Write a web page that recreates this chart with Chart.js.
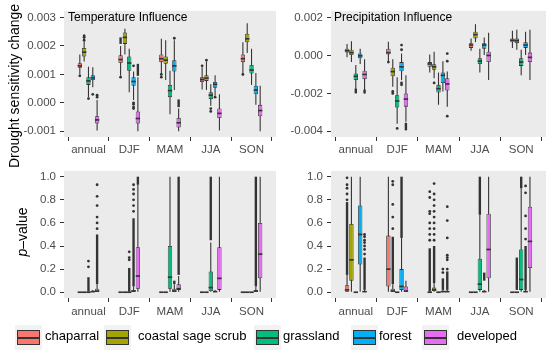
<!DOCTYPE html>
<html><head><meta charset="utf-8">
<script src="https://cdn.jsdelivr.net/npm/chart.js@4.4.1/dist/chart.umd.min.js"></script>
<style>
html,body{margin:0;padding:0;background:#fff;}
#wrap{position:relative;width:550px;height:352px;overflow:hidden;font-family:"Liberation Sans",Arial,sans-serif;}
canvas{position:absolute;}
.ax{position:absolute;white-space:nowrap;font-size:14px;line-height:16px;transform:translate(-50%,-50%) rotate(-90deg);}
.ptitle{position:absolute;white-space:nowrap;font-size:12px;line-height:14px;color:#000;}
.kbg{position:absolute;width:27px;height:25px;background:#F2F2F2;top:325px;}
.kbox{position:absolute;left:2px;top:5px;width:21px;height:13px;border:1px solid #333;}
.kmed{position:absolute;left:0;top:6px;width:21px;height:1.5px;background:#333;}
.lt{position:absolute;top:328px;font-size:13px;line-height:16px;color:#000;white-space:nowrap;}
</style></head><body><div id="wrap">
<canvas id="c1" width="280" height="160" style="left:0;top:0;width:280px;height:160px"></canvas>
<canvas id="c2" width="280" height="160" style="left:270px;top:0;width:280px;height:160px"></canvas>
<canvas id="c3" width="280" height="160" style="left:0;top:160px;width:280px;height:160px"></canvas>
<canvas id="c4" width="280" height="160" style="left:270px;top:160px;width:280px;height:160px"></canvas>
<div class="ax" style="left:14px;top:86px;">Drought sensitivity change</div>
<div class="ax" style="left:22px;top:232px;"><i>p</i>&#8211;value</div>
<div class="ptitle" style="left:68px;top:10px;">Temperature Influence</div>
<div class="ptitle" style="left:334px;top:10px;">Precipitation Influence</div>
<div id="legend"></div>
</div>
<script>
// ---------------- DATA ----------------
const CATS = ['annual', 'DJF', 'MAM', 'JJA', 'SON'];
const GROUPS = ['chaparral', 'coastal sage scrub', 'grassland', 'forest', 'developed'];
const COLORS = ['#F8766D', '#A3A500', '#00BF7D', '#00B0F6', '#E76BF3'];

// Temperature influence (rows = groups, cols = categories)
const tempQ1 = [
  [0.00123, 0.00140, 0.00143, 0.00073, 0.00143],
  [0.00163, 0.00207, 0.00137, 0.00077, 0.00213],
  [0.00063, 0.00113, 0.00020, 0.00013, 0.00103],
  [0.00080, 0.00060, 0.00110, 0.00053, 0.00030],
  [-0.00073, -0.00073, -0.00087, -0.00053, -0.00047]];
const tempMed = [
  [0.00130, 0.00152, 0.00155, 0.00082, 0.00155],
  [0.00178, 0.00230, 0.00150, 0.00087, 0.00225],
  [0.00077, 0.00140, 0.00043, 0.00027, 0.00115],
  [0.00088, 0.00075, 0.00130, 0.00065, 0.00045],
  [-0.00060, -0.00055, -0.00070, -0.00037, -0.00027]];
const tempQ3 = [
  [0.00139, 0.00167, 0.00170, 0.00090, 0.00170],
  [0.00193, 0.00247, 0.00163, 0.00097, 0.00243],
  [0.00090, 0.00163, 0.00063, 0.00037, 0.00133],
  [0.00097, 0.00090, 0.00150, 0.00073, 0.00060],
  [-0.00047, -0.00030, -0.00053, -0.00020, -0.00007]];
const tempLo = [
  [0.00100, 0.00095, 0.00097, 0.00047, 0.00097],
  [0.00145, 0.00170, 0.00080, 0.00045, 0.00175],
  [0.00020, 0.00037, -0.00040, -0.00010, 0.00063],
  [0.00055, 0.00010, 0.00045, 0.00025, -0.00007],
  [-0.00097, -0.00100, -0.00100, -0.00097, -0.00100]];
const tempHi = [
  [0.00170, 0.00200, 0.00225, 0.00125, 0.00213],
  [0.00240, 0.00260, 0.00220, 0.00145, 0.00280],
  [0.00127, 0.00190, 0.00113, 0.00065, 0.00190],
  [0.00125, 0.00110, 0.00220, 0.00097, 0.00105],
  [0.00010, 0.00090, -0.00020, 0.00030, 0.00060]];
const tempBands = [
  [null, [0.00207, 0.00230], null, null, null],
  [null, null, null, null, null],
  [null, null, null, null, null],
  [null, null, null, null, null],
  [null, [0.00095, 0.00137], [-0.00015, 0.00012], null, null]];
const tempOut = [
  [[0.00095], [0.00090], [0.00090, 0.00100], [0.00130], [0.00100]],
  [[0.00220, 0.00230, 0.00235], [], [], [0.00150], []],
  [[0.00015], [], [], [-0.00020, -0.00030], []],
  [[0.00030], [0.00000, -0.00005, -0.00015, -0.00020, 0.00130], [0.00227], [0.00020], []],
  [[0.00020, 0.00027], [], [], [], []]];
const tempTicks = [-0.001, 0.000, 0.001, 0.002, 0.003];

// Precipitation influence
const precQ1 = [
  [0.00015, 0.00005, -0.00060, 0.00040, 0.00070],
  [0.00000, -0.00110, -0.00075, 0.00090, 0.00065],
  [-0.00130, -0.00275, -0.00195, -0.00045, -0.00055],
  [-0.00015, -0.00083, -0.00145, 0.00035, 0.00040],
  [-0.00125, -0.00270, -0.00185, -0.00035, -0.00035]];
const precMed = [
  [0.00025, 0.00015, -0.00045, 0.00055, 0.00080],
  [0.00015, -0.00085, -0.00060, 0.00110, 0.00078],
  [-0.00110, -0.00240, -0.00175, -0.00030, -0.00035],
  [-0.00002, -0.00060, -0.00105, 0.00055, 0.00055],
  [-0.00100, -0.00230, -0.00150, 0.00000, -0.00010]];
const precQ3 = [
  [0.00035, 0.00035, -0.00035, 0.00065, 0.00090],
  [0.00030, -0.00065, -0.00047, 0.00125, 0.00090],
  [-0.00095, -0.00210, -0.00155, -0.00015, -0.00015],
  [0.00010, -0.00035, -0.00090, 0.00065, 0.00070],
  [-0.00080, -0.00200, -0.00120, 0.00020, 0.00015]];
const precLo = [
  [-0.00010, -0.00030, -0.00090, 0.00025, 0.00040],
  [-0.00035, -0.00165, -0.00120, 0.00070, 0.00030],
  [-0.00185, -0.00360, -0.00260, -0.00090, -0.00105],
  [-0.00045, -0.00130, -0.00190, 0.00000, 0.00000],
  [-0.00200, -0.00350, -0.00270, -0.00130, -0.00130]];
const precHi = [
  [0.00060, 0.00072, 0.00005, 0.00090, 0.00130],
  [0.00075, -0.00020, 0.00020, 0.00165, 0.00135],
  [-0.00050, -0.00115, -0.00090, 0.00035, 0.00030],
  [0.00035, 0.00010, -0.00030, 0.00095, 0.00125],
  [-0.00020, -0.00105, -0.00085, 0.00120, 0.00135]];
const precBands = [
  [null, null, null, null, null],
  [null, null, null, null, null],
  [[-0.00200, -0.00175], null, null, null, null],
  [null, null, null, null, null],
  [[-0.00200, -0.00180], [-0.00395, -0.00355], null, null, null]];
const precOut = [
  [[], [-0.00035], [], [], []],
  [[], [-0.00190, -0.00200], [-0.00145], [], []],
  [[], [-0.00385], [], [], []],
  [[], [0.00030, 0.00055, -0.00145, -0.00155], [], [], []],
  [[], [], [-0.00030, 0.00010, -0.00320], [], []]];
const precTicks = [-0.004, -0.002, 0.000, 0.002];

// p-values, temperature
const pTQ1 = [
  [0, 0, 0, 0, 0],
  [0, 0, 0, 0, 0],
  [0, 0, 0.03, 0.01, 0],
  [0, 0, 0, 0, 0],
  [0.00, 0.03, 0.02, 0.02, 0.12]];
const pTMed = [
  [0, 0, 0, 0, 0],
  [0, 0, 0, 0, 0],
  [0, 0, 0.13, 0.04, 0],
  [0.005, 0.01, 0.01, 0.005, 0.01],
  [0.01, 0.14, 0.03, 0.12, 0.33]];
const pTQ3 = [
  [0, 0, 0, 0, 0],
  [0, 0, 0, 0, 0],
  [0, 0, 0.40, 0.18, 0],
  [0.01, 0.02, 0.03, 0.01, 0.02],
  [0.03, 0.39, 0.07, 0.39, 0.60]];
const pTLo = [
  [0, 0, 0, 0, 0], [0, 0, 0, 0, 0], [0, 0, 0, 0, 0], [0, 0, 0, 0, 0], [0, 0, 0, 0, 0]];
const pTHi = [
  [0, 0, 0, 0, 0],
  [0, 0, 0, 0, 0],
  [0, 0, 1.0, 0.43, 0],
  [0.02, 0.05, 0.07, 0.02, 0.05],
  [0.07, 0.93, 0.14, 1.0, 1.0]];
const pTBands = [
  [null, null, null, null, null],
  [null, null, null, null, null],
  [[0.005, 0.13], [0.005, 0.21], null, [0.45, 1.0], null],
  [null, [0.05, 0.64], [0.07, 0.10], null, [0.05, 1.0]],
  [[0.07, 0.50], [0.93, 1.0], [0.15, 1.0], null, null]];
const pTOut = [
  [[], [], [], [], []],
  [[], [], [], [], []],
  [[0.22, 0.27], [0.28, 0.30, 0.35], [], [], []],
  [[], [0.70, 0.75, 0.80, 0.85, 0.89, 0.93], [], [], []],
  [[0.55, 0.60, 0.65, 0.75, 0.83, 0.93], [], [], [], []]];

// p-values, precipitation
const pPQ1 = [
  [0, 0.05, 0, 0, 0],
  [0.10, 0, 0.01, 0, 0],
  [0, 0, 0, 0.02, 0.02],
  [0.24, 0.02, 0, 0, 0],
  [0, 0, 0, 0.12, 0.21]];
const pPMed = [
  [0.02, 0.20, 0, 0, 0],
  [0.28, 0.01, 0.02, 0, 0],
  [0, 0, 0, 0.07, 0.11],
  [0.50, 0.05, 0.005, 0.005, 0.005],
  [0.005, 0.01, 0.005, 0.37, 0.44]];
const pPQ3 = [
  [0.06, 0.49, 0, 0, 0],
  [0.59, 0.03, 0.04, 0, 0],
  [0, 0, 0, 0.29, 0.37],
  [0.75, 0.20, 0.01, 0.01, 0.01],
  [0.01, 0.05, 0.01, 0.68, 0.74]];
const pPLo = [
  [0, 0, 0, 0, 0], [0, 0, 0, 0, 0], [0, 0, 0, 0, 0], [0, 0, 0, 0, 0], [0, 0, 0, 0, 0]];
const pPHi = [
  [0.15, 1.0, 0, 0, 0],
  [1.0, 0.07, 0.08, 0, 0],
  [0, 0, 0, 0.67, 0.90],
  [1.0, 0.47, 0.02, 0.02, 0.02],
  [0.02, 0.10, 0.02, 1.0, 1.0]];
const pPBands = [
  [[0.15, 0.78], null, [0.005, 0.38], null, null],
  [null, [0.07, 0.48], [0.08, 0.40], null, [0.02, 0.30]],
  [null, null, null, [0.67, 1.0], [0.90, 1.0]],
  [null, [0.47, 1.0], [0.02, 0.12], [0.10, 0.17], [0.02, 0.40]],
  [[0.02, 0.30], null, [0.02, 0.18], null, null]];
const pPOut = [
  [[0.80, 0.85, 0.90, 0.93, 0.99], [], [0.45, 0.50, 0.55, 0.60, 0.68, 0.70, 0.82, 0.87], [], []],
  [[], [0.55, 0.65, 0.76, 0.93, 0.96], [0.45, 0.50, 0.55, 0.60, 0.65, 0.70, 0.75, 0.80, 0.85, 0.94], [], []],
  [[], [], [], [], []],
  [[], [], [0.17, 0.20], [], [0.46, 0.55, 0.66, 0.86, 0.92]],
  [[0.33, 0.37, 0.40, 0.43, 0.45, 0.48, 0.50], [], [0.20, 0.28, 0.30, 0.32, 0.47, 0.62, 0.74], [], []]];
const pTicks = [0.0, 0.2, 0.4, 0.6, 0.8, 1.0];

// ---------------- DRAWING ----------------
const FONT = '"Liberation Sans", Arial, sans-serif';
const CP = 0.53; // dodge width (fraction of category)
const DARK = '#333333';

const bgPlugin = {
  id: 'panelBg',
  beforeDraw(chart) {
    const {ctx, chartArea: a} = chart;
    ctx.save();
    ctx.fillStyle = '#EBEBEB';
    ctx.fillRect(a.left, a.top, a.right - a.left, a.bottom - a.top);
    ctx.restore();
  }
};

function buildDatasets(P) {
  const ds = [];
  const h = (P.max - P.min) * 0.0065;
  GROUPS.forEach((g, gi) => {
    const st = 'g' + gi;
    ds.push({type: 'bar', stack: st, order: 0, categoryPercentage: CP, barPercentage: 1.0,
      backgroundColor: DARK, borderWidth: 0, minBarLength: 1.5,
      data: CATS.map((c, ci) => ({x: ci + 1, y: [P.med[gi][ci] - h, P.med[gi][ci] + h]}))});
  });
  GROUPS.forEach((g, gi) => {
    const st = 'g' + gi;
    ds.push({type: 'bar', stack: st, order: 1, categoryPercentage: CP, barPercentage: 1.0,
      backgroundColor: COLORS[gi], borderColor: DARK, borderWidth: 0.8, borderSkipped: false,
      data: CATS.map((c, ci) => ({x: ci + 1, y: [P.q1[gi][ci], P.q3[gi][ci]]}))});
    ds.push({type: 'bar', stack: st, order: 2, categoryPercentage: CP, barPercentage: 0.55,
      backgroundColor: DARK, borderWidth: 0,
      data: CATS.map((c, ci) => ({x: ci + 1, y: P.bands[gi][ci] ? P.bands[gi][ci].slice() : null}))});
    ds.push({type: 'bar', stack: st, order: 3, categoryPercentage: CP, barPercentage: 0.25,
      backgroundColor: DARK, borderWidth: 0,
      data: CATS.map((c, ci) => ({x: ci + 1, y: [P.lo[gi][ci], P.hi[gi][ci]]}))});
  });
  const pts = [];
  GROUPS.forEach((g, gi) => {
    CATS.forEach((c, ci) => {
      P.out[gi][ci].forEach(v => pts.push({x: ci + 1 + (gi - 2) * CP / GROUPS.length, y: v}));
    });
  });
  ds.push({type: 'scatter', order: -1, data: pts, pointRadius: 1.4, pointBackgroundColor: DARK,
    pointBorderWidth: 0, borderColor: DARK});
  return ds;
}

function makeChart(id, P) {
  const tickFont = {family: FONT, size: 11.5};
  return new Chart(document.getElementById(id), {
    type: 'bar',
    data: {datasets: buildDatasets(P)},
    plugins: [bgPlugin],
    options: {
      responsive: false, animation: false, events: [],
      layout: {padding: {top: P.padTop, right: 3, left: 0, bottom: 0}},
      plugins: {legend: {display: false}, tooltip: {enabled: false}},
      scales: {
        x: {
          type: 'linear', min: 0.4, max: 5.6, offset: false,
          afterBuildTicks: s => { s.ticks = CATS.map((c, i) => ({value: i + 1})); },
          ticks: {callback: (v, i) => CATS[i], color: '#4D4D4D', font: tickFont,
            padding: P.xPad, maxRotation: 0, autoSkip: false},
          grid: {display: true, drawOnChartArea: false, drawTicks: true, tickLength: 4, color: DARK, lineWidth: 1},
          border: {display: false},
          afterFit: s => { s.height = P.xH; }
        },
        y: {
          type: 'linear', min: P.min, max: P.max, stacked: false,
          afterBuildTicks: s => { s.ticks = P.ticks.map(v => ({value: v})); },
          ticks: {callback: (v, i) => P.fmt(P.ticks[i]), color: '#4D4D4D', font: tickFont, padding: 4},
          grid: {display: true, drawOnChartArea: false, drawTicks: true, tickLength: 4, color: DARK, lineWidth: 1},
          border: {display: false},
          afterFit: s => { s.width = P.yW; }
        }
      }
    }
  });
}

const fmt3 = v => (Math.abs(v) < 1e-12 ? 0 : v).toFixed(3);
const fmt1 = v => v.toFixed(1);

makeChart('c1', {q1: tempQ1, med: tempMed, q3: tempQ3, lo: tempLo, hi: tempHi, bands: tempBands, out: tempOut,
  min: -0.0012, max: 0.00323, ticks: tempTicks, fmt: fmt3, yW: 64, padTop: 4, xH: 23, xPad: 2});
makeChart('c2', {q1: precQ1, med: precMed, q3: precQ3, lo: precLo, hi: precHi, bands: precBands, out: precOut,
  min: -0.0043, max: 0.00235, ticks: precTicks, fmt: fmt3, yW: 61, padTop: 4, xH: 23, xPad: 2});
makeChart('c3', {q1: pTQ1, med: pTMed, q3: pTQ3, lo: pTLo, hi: pTHi, bands: pTBands, out: pTOut,
  min: -0.05, max: 1.05, ticks: pTicks, fmt: fmt1, yW: 64, padTop: 6, xH: 22, xPad: 3});
makeChart('c4', {q1: pPQ1, med: pPMed, q3: pPQ3, lo: pPLo, hi: pPHi, bands: pPBands, out: pPOut,
  min: -0.05, max: 1.05, ticks: pTicks, fmt: fmt1, yW: 61, padTop: 6, xH: 22, xPad: 3});

// legend
const keyX = [15, 104, 254, 351, 422];
const textX = [45, 138, 283, 379, 457];
const leg = document.getElementById('legend');
GROUPS.forEach((g, i) => {
  const k = document.createElement('div');
  k.className = 'kbg';
  k.style.left = keyX[i] + 'px';
  k.innerHTML = '<div class="kbox" style="background:' + COLORS[i] + '"><div class="kmed"></div></div>';
  leg.appendChild(k);
  const t = document.createElement('div');
  t.className = 'lt';
  t.style.left = textX[i] + 'px';
  t.textContent = g;
  leg.appendChild(t);
});
</script>
</body></html>
